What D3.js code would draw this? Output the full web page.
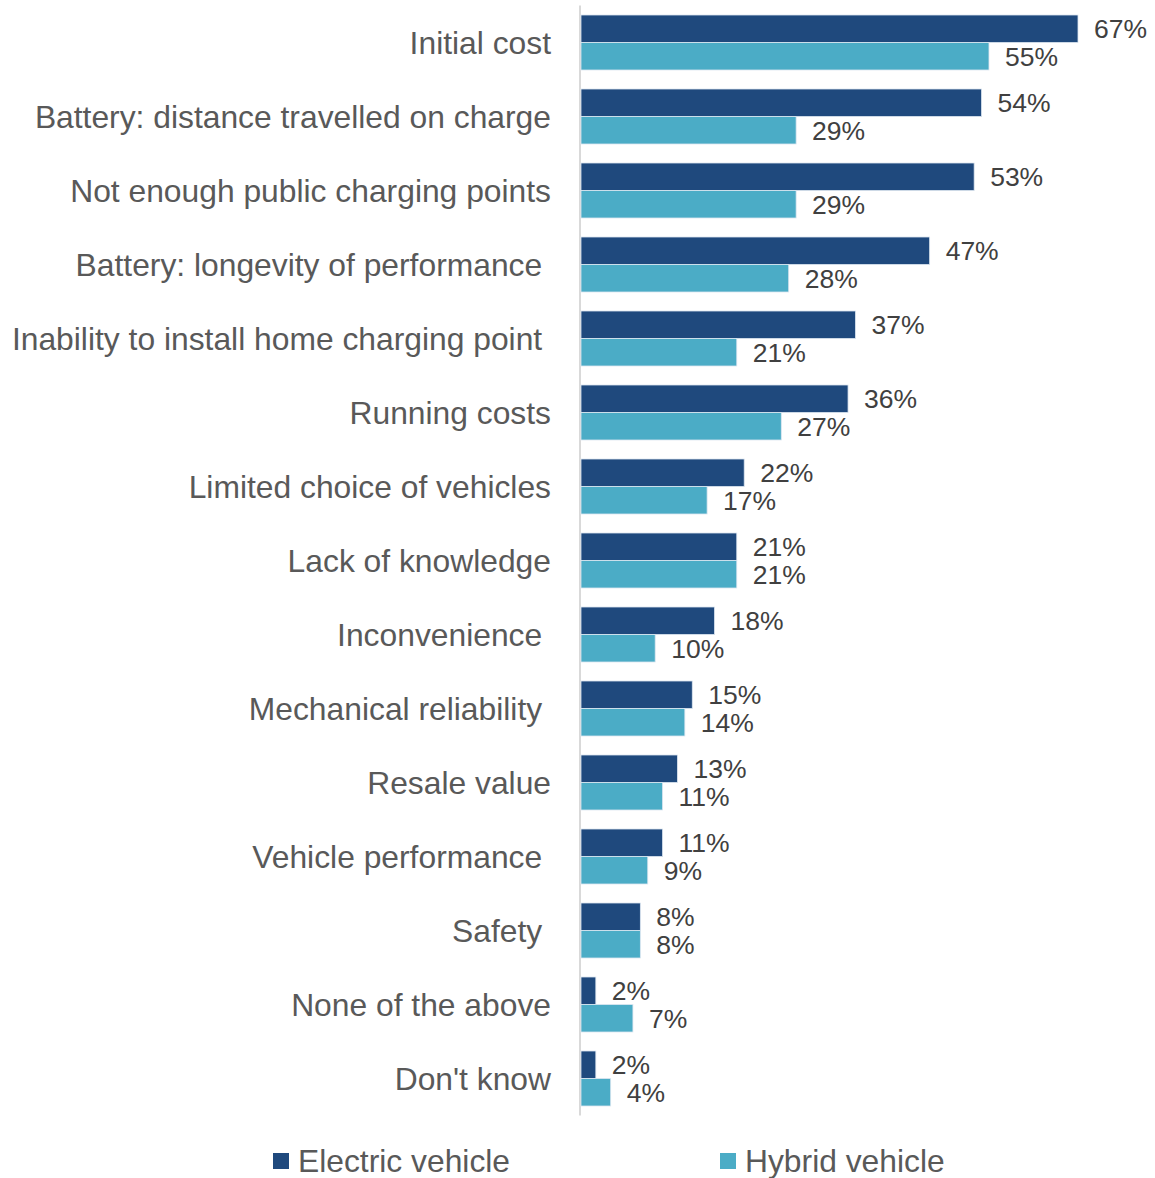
<!DOCTYPE html>
<html>
<head>
<meta charset="utf-8">
<script src="https://cdn.jsdelivr.net/npm/d3@7"></script>
<style>
  html, body { margin: 0; padding: 0; background: #fff; }
  svg { display: block; font-family: "Liberation Sans", Arial, sans-serif; }
  text { white-space: pre; }
</style>
</head>
<body>
<svg id="chart" width="1155" height="1178"></svg>
<script>
// Reasons cited as barriers to buying an electric / hybrid vehicle (% of respondents)
const categories = [
  "Initial cost",
  "Battery: distance travelled on charge",
  "Not enough public charging points",
  "Battery: longevity of performance ",
  "Inability to install home charging point ",
  "Running costs",
  "Limited choice of vehicles",
  "Lack of knowledge",
  "Inconvenience ",
  "Mechanical reliability ",
  "Resale value",
  "Vehicle performance ",
  "Safety ",
  "None of the above",
  "Don't know"
];
const electricValues = [67, 54, 53, 47, 37, 36, 22, 21, 18, 15, 13, 11, 8, 2, 2];
const hybridValues   = [55, 29, 29, 28, 21, 27, 17, 21, 10, 14, 11, 9, 8, 7, 4];
const seriesNames = ["Electric vehicle", "Hybrid vehicle"];
const seriesColors = ["#1f497d", "#4bacc6"];

const svg = d3.select("#chart");
const axisX = 580;
const plotTop = 5.5, plotBottom = 1115.5;

const x = d3.scaleLinear().domain([0, 67]).range([axisX + 1, 1078]);
const y = d3.scaleBand().domain(categories).range([plotTop, plotBottom]).paddingInner(0.2568).paddingOuter(0.1284);
const sub = d3.scaleBand().domain([0, 1]).range([0, y.bandwidth()]);

const rows = categories.map((c, i) => ({ c, vals: [electricValues[i], hybridValues[i]] }));

// vertical category axis line
svg.append("line")
  .attr("x1", axisX).attr("x2", axisX)
  .attr("y1", plotTop).attr("y2", plotBottom)
  .attr("stroke", "#d9d9d9").attr("stroke-width", 2);

const g = svg.append("g");
const row = g.selectAll("g.row").data(rows).join("g")
  .attr("class", "row")
  .attr("transform", d => `translate(0,${y(d.c)})`);

row.selectAll("rect").data(d => d.vals).join("rect")
  .attr("x", x(0))
  .attr("y", (v, j) => sub(j))
  .attr("width", v => x(v) - x(0))
  .attr("height", sub.bandwidth())
  .attr("fill", (v, j) => seriesColors[j])
  .attr("stroke", "#dce6f0")
  .attr("stroke-width", 0.8);

row.selectAll("text.val").data(d => d.vals).join("text")
  .attr("class", "val")
  .attr("x", v => x(v) + 16)
  .attr("y", (v, j) => sub(j) + sub.bandwidth() / 2 + 9.5)
  .attr("font-size", 26.5)
  .attr("fill", "#404040")
  .text(v => v + "%");

// category labels
svg.append("g").selectAll("text").data(categories).join("text")
  .attr("x", 551)
  .attr("y", d => y(d) + y.bandwidth() / 2 + 11)
  .attr("text-anchor", "end")
  .attr("font-size", 31.8)
  .attr("fill", "#595959")
  .text(d => d);

// legend
const legendX = [273, 720];
const legend = svg.append("g").selectAll("g").data(seriesNames).join("g")
  .attr("transform", (d, i) => `translate(${legendX[i]},1153)`);
legend.append("rect")
  .attr("width", 16).attr("height", 16)
  .attr("fill", (d, i) => seriesColors[i]);
legend.append("text")
  .attr("x", 25).attr("y", 18.5)
  .attr("font-size", 31.8)
  .attr("fill", "#595959")
  .text(d => d);
</script>
</body>
</html>
